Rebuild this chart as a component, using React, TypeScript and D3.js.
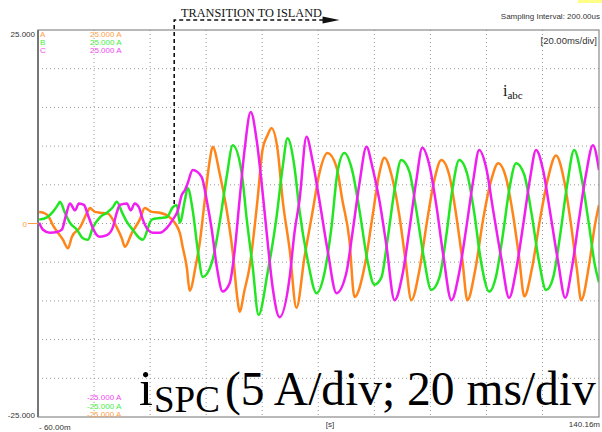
import React from 'react';
import * as d3 from 'd3';

// scope settings
const timeDomain = [-60, 140.16]; // ms
const ampDomain = [-25, 25]; // A
const timeGrid = [-40, -20, 0, 20, 40, 60, 80, 100, 120];
const ampGrid = [-20, -15, -10, -5, 0, 5, 10, 15, 20];
const transitionMs = -11.4;
const arrowEndMs = 47.6;

// phase currents: [time ms, current A]
const phaseA: [number, number][] = [
  [-59.6, 1.5], [-58.2, 1.4], [-56.4, 1.0], [-54.7, -0.2], [-52.9, -1.2], [-51.1, -2.1], [-49.3, -3.2],
  [-47.9, -1.7], [-45.0, -0.5], [-42.5, 1.4], [-41.5, 2.0], [-39.7, 1.5], [-37.9, 1.4], [-35.1, 1.3],
  [-31.9, -0.5], [-30.1, -1.9], [-29.0, -3.0], [-26.5, -1.2], [-23.7, 0.5], [-21.9, 2.0], [-19.4, 1.5],
  [-16.5, 1.4], [-13.0, 0.8], [-9.4, -1.2], [-8.4, -3.0], [-6.9, -5.7], [-5.9, -8.7], [-3.7, -5.4],
  [-2.3, -2.5], [-0.5, 3.0], [1.3, 8.2], [2.3, 9.9], [4.8, 6.5], [7.3, 1.8], [9.5, -3.8], [11.2, -9.9],
  [11.9, -11.4], [13.7, -8.6], [15.5, -5.6], [18.3, 3.0], [20.1, 9.5], [21.9, 11.4], [23.3, 12.3],
  [25.5, 9.5], [27.3, 3.0], [29.8, -3.4], [32.2, -10.9], [35.1, -4.3], [37.9, 1.4], [40.4, 6.5],
  [43.3, 9.1], [46.5, 7.3], [48.6, 3.0], [51.1, -2.1], [52.9, -9.5], [56.5, -5.6], [59.3, 0.8],
  [61.8, 6.5], [63.6, 8.5], [66.1, 6.3], [68.9, 1.1], [71.1, -4.7], [73.2, -9.9], [76.1, -6.0],
  [78.9, 0.5], [81.4, 5.6], [83.9, 8.2], [86.7, 6.3], [89.2, 1.1], [91.4, -4.7], [93.2, -9.9],
  [96.0, -6.0], [98.8, 0.5], [101.7, 5.6], [104.2, 7.8], [107.0, 5.9], [109.5, 1.1], [111.7, -4.5],
  [113.5, -9.4], [116.3, -5.7], [119.1, 0.5], [122.0, 5.9], [124.8, 8.8], [127.7, 5.6], [130.2, -0.2],
  [132.3, -6.0], [133.8, -9.9], [136.6, -5.4], [138.7, -0.2], [140.16, 2.4],
];

const phaseB: [number, number][] = [
  [-59.6, 0.5], [-56.8, 0.8], [-54.7, 1.5], [-52.9, 2.4], [-52.2, 2.8], [-50.4, 1.4], [-48.6, 0.1],
  [-46.1, -0.8], [-44.0, -1.9], [-42.2, -2.1], [-40.4, -0.5], [-37.9, 0.8], [-35.4, 1.4], [-33.3, 2.1],
  [-31.9, 2.8], [-30.1, 1.5], [-28.3, 0.2], [-26.2, -0.8], [-23.7, -1.9], [-22.6, -2.1], [-19.4, 0.5],
  [-16.5, 0.7], [-14.1, 0.8], [-11.9, 2.1], [-10.5, 2.4], [-9.4, 0.1], [-7.6, 3.0], [-6.6, 4.6],
  [-4.8, 1.7], [-3.0, -3.4], [-1.2, -6.9], [2.0, -5.1], [4.8, 0.1], [7.3, 6.0], [9.5, 10.1],
  [12.7, 6.5], [14.4, 0.8], [16.6, -5.6], [18.7, -11.8], [21.9, -6.4], [25.1, 0.8], [27.3, 7.3],
  [29.0, 11.0], [31.5, 7.3], [33.3, 1.7], [36.2, -4.7], [39.4, -9.0], [42.2, -6.4], [44.7, -0.5],
  [46.8, 6.5], [49.3, 9.1], [52.2, 6.7], [54.7, 1.7], [57.5, -4.7], [60.0, -7.9], [62.5, -7.0],
  [64.7, -2.1], [67.2, 4.3], [69.6, 8.2], [72.5, 6.7], [75.0, 1.7], [77.8, -4.7], [80.3, -8.6],
  [83.2, -7.0], [85.7, -1.5], [87.8, 4.3], [90.3, 8.2], [93.2, 6.3], [95.6, 1.5], [98.1, -5.0],
  [101.0, -8.8], [103.5, -6.7], [106.0, -1.1], [108.1, 4.3], [110.6, 7.8], [113.5, 6.3], [116.0, 1.5],
  [118.8, -5.0], [121.3, -8.6], [123.8, -7.0], [126.3, -1.5], [128.8, 5.0], [131.3, 9.5], [134.1, 5.6],
  [136.6, -0.2], [138.7, -5.4], [140.16, -7.6],
];

const phaseC: [number, number][] = [
  [-59.6, 0.1], [-58.2, -0.8], [-55.7, -1.2], [-53.2, -1.1], [-51.5, -0.8], [-50.0, 1.1], [-48.6, 2.6],
  [-46.8, 1.7], [-45.4, 2.6], [-43.6, 2.4], [-42.2, 1.1], [-40.4, -0.6], [-39.0, -1.5], [-37.9, -1.7],
  [-35.4, -1.5], [-33.3, -0.5], [-31.9, 1.4], [-30.8, 2.4], [-28.3, 2.6], [-26.9, 1.7], [-25.5, 2.6],
  [-24.0, 2.1], [-22.6, 0.5], [-20.8, -0.8], [-19.0, -1.2], [-16.5, -1.2], [-14.1, -0.6], [-11.9, 0.5],
  [-10.1, 1.7], [-8.7, 3.7], [-7.6, 4.3], [-6.6, 5.2], [-4.8, 6.9], [-1.6, 6.0], [0.2, 3.0],
  [2.0, -0.8], [3.8, -5.6], [5.9, -8.8], [8.4, -7.7], [10.2, -3.4], [11.9, 3.0], [13.7, 9.5],
  [15.9, 14.4], [18.0, 10.8], [19.8, 5.2], [21.6, -1.2], [23.7, -8.2], [26.2, -12.1], [29.8, -6.9],
  [31.5, -1.2], [33.3, 3.0], [35.8, 11.2], [37.9, 8.2], [40.4, 3.0], [43.3, -3.4], [46.5, -9.0],
  [50.0, -6.4], [52.2, -1.2], [54.7, 5.2], [57.2, 9.9], [59.3, 7.3], [61.8, 3.0], [64.3, -2.8],
  [67.2, -9.9], [70.0, -6.7], [72.5, -0.8], [75.0, 5.6], [77.1, 9.8], [79.6, 7.6], [82.1, 2.4],
  [84.6, -4.1], [87.5, -9.9], [90.3, -6.3], [92.8, -0.6], [95.3, 5.6], [97.4, 9.5], [99.9, 7.2],
  [102.4, 1.7], [105.3, -4.5], [108.1, -9.6], [110.6, -6.0], [113.1, -0.2], [115.6, 5.9], [117.7, 9.5],
  [120.2, 6.9], [122.7, 1.5], [125.6, -5.0], [128.1, -9.6], [130.5, -5.7], [133.0, 0.5], [135.5, 6.3],
  [138.0, 10.1], [140.16, 6.9],
];

const channels = [
  { name: 'A', data: phaseA, color: '#ff8519', legend: '#ffa04a' },
  { name: 'B', data: phaseB, color: '#22e622', legend: '#44ee44' },
  { name: 'C', data: phaseC, color: '#f01ef0', legend: '#f048f0' },
];
const topLegend = ['25.000 A', '25.000 A', '25.000 A'];
const bottomLegend = ['-25.000 A', '-25.000 A', '-25.000 A'];

const sans = 'Liberation Sans, Arial, sans-serif';
const serif = 'Liberation Serif, Times New Roman, serif';

export default function App() {
  const left = 38, right = 599, top = 30, bottom = 417;
  const x = d3.scaleLinear().domain(timeDomain).range([left, right]);
  const y = d3.scaleLinear().domain(ampDomain).range([bottom, top]);
  const line = d3.line<[number, number]>()
    .x(d => x(d[0]))
    .y(d => y(d[1]))
    .curve(d3.curveMonotoneX);

  const tx = x(transitionMs);
  const ax = x(arrowEndMs);

  return (
    <svg width={602} height={432} style={{ position: 'absolute', left: 0, top: 0, background: '#fff' }}>
      <rect x={578} y={0} width={24} height={3} fill="#ffff88" />
      <defs>
        <clipPath id="plot">
          <rect x={left} y={top} width={right - left} height={bottom - top} />
        </clipPath>
      </defs>

      {/* grid */}
      {timeGrid.map(t => (
        <line key={'t' + t} x1={x(t)} x2={x(t)} y1={top} y2={bottom}
          stroke="#9a9a9a" strokeWidth={1} strokeDasharray="1,3" />
      ))}
      {ampGrid.map(a => (
        <line key={'a' + a} x1={left} x2={right} y1={y(a)} y2={y(a)}
          stroke="#9a9a9a" strokeWidth={1} strokeDasharray="1,3" />
      ))}

      {/* traces */}
      <g clipPath="url(#plot)">
        {channels.map(c => (
          <path key={c.name} d={line(c.data) || ''} fill="none" stroke={c.color}
            strokeWidth={2.5} strokeLinejoin="round" />
        ))}
      </g>

      {/* frame */}
      <rect x={left} y={top} width={right - left} height={bottom - top} fill="none" stroke="#8a8a8a" strokeWidth={1.2} />
      <line x1={left} x2={left} y1={top} y2={bottom} stroke="#777" strokeWidth={2} />

      {/* scope labels */}
      <g fontFamily={sans} fontSize={8} fill="#333">
        <text x={35} y={37} textAnchor="end">{ampDomain[1].toFixed(3)}</text>
        <text x={35} y={418} textAnchor="end">{ampDomain[0].toFixed(3)}</text>
        <text x={left + 1} y={430}>- 60.00m</text>
        <text x={330} y={427} textAnchor="middle">[s]</text>
        <text x={600} y={427} textAnchor="end">140.16m</text>
        <text x={600} y={19} textAnchor="end">Sampling Interval:  200.00us</text>
        <text x={597} y={44} textAnchor="end" fontSize={9.5}>[20.00ms/div]</text>
      </g>
      <text x={27} y={227} textAnchor="end" fontFamily={sans} fontSize={8} fill="#ff9a40">0</text>
      <line x1={28} x2={left} y1={y(0)} y2={y(0)} stroke="#ff9a40" strokeWidth={1} />

      <g fontFamily={sans} fontSize={8}>
        {channels.map((c, i) => (
          <g key={c.name} fill={c.legend}>
            <text x={40} y={37 + i * 8}>{c.name}</text>
            <text x={90} y={37 + i * 8}>{topLegend[i]}</text>
          </g>
        ))}
        {[2, 1, 0].map((ci, i) => (
          <text key={ci} x={87} y={400 + i * 8.5} fill={channels[ci].legend}>{bottomLegend[ci]}</text>
        ))}
      </g>

      {/* transition annotation */}
      <path d={`M${tx},204V20H${ax - 14}`} fill="none" stroke="#111" strokeWidth={1.6} strokeDasharray="4,3" />
      <polygon points={`${ax - 17},16.5 ${ax},20 ${ax - 17},23.5`} fill="#111" />
      <text x={181} y={17} fontFamily={serif} fontSize={12.3} fill="#111">TRANSITION TO ISLAND</text>

      {/* i_abc */}
      <text x={503} y={96} fontFamily={serif} fontSize={16} fill="#111">
        i<tspan fontSize={11} dy={3}>abc</tspan>
      </text>

      {/* big caption */}
      <g fontFamily={serif} fill="#000">
        <text x={139} y={405} fontSize={50}>i</text>
        <text x={154} y={412} fontSize={37}>SPC</text>
        <text x={225} y={405} fontSize={47.5}>(5 A/div; 20 ms/div</text>
      </g>
    </svg>
  );
}
